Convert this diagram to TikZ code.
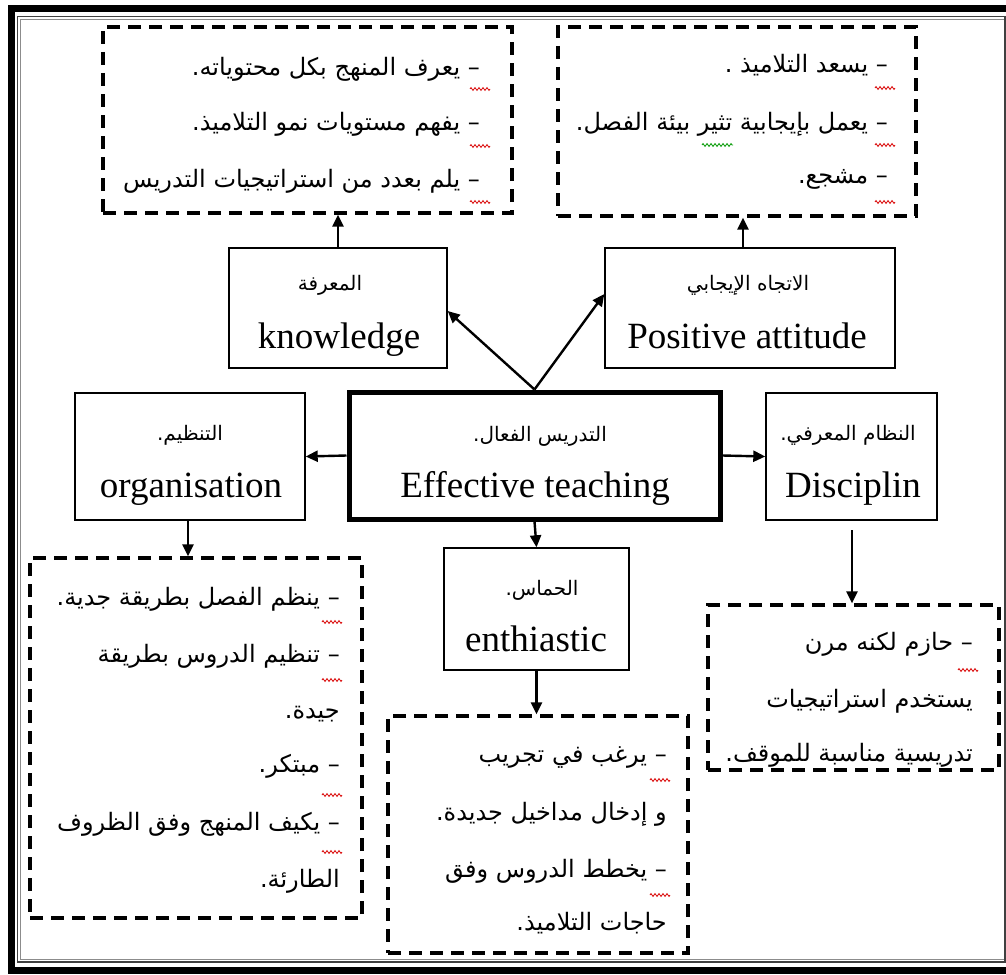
\documentclass[tikz,border=0pt]{standalone}
\usepackage{fontspec}
\setmainfont{Liberation Serif}
\newfontfamily\arabicfont[Script=Arabic]{DejaVu Sans}
\TeXXeTstate=1
\usetikzlibrary{arrows.meta,decorations.pathmorphing}

% right-to-left Arabic run
\newcommand{\artext}[1]{{\arabicfont\beginR #1\endR}}

\begin{document}
\begin{tikzpicture}[x=1pt,y=-1pt,
  solidbox/.style={draw, line width=1.4pt, inner sep=0pt},
  mainbox/.style={draw, line width=5pt, inner sep=0pt},
  dashbox/.style={draw, line width=3.2pt, dash pattern=on 13pt off 8pt, inner sep=0pt},
  arr/.style={line width=2.4pt, -{Triangle[length=12pt,width=11pt]}},
  entext/.style={font=\fontsize{37}{40}\selectfont, inner sep=0pt, anchor=base},
  arhead/.style={font=\arabicfont\fontsize{20}{22}\selectfont, inner sep=0pt},
  arline/.style={font=\arabicfont\fontsize{24}{28}\selectfont, inner sep=0pt, anchor=base east},
  squig/.style={draw=red!85!black, line width=0.8pt, decorate,
                decoration={zigzag, amplitude=1.4pt, segment length=4pt}},
  squiggreen/.style={squig, draw=green!60!black}
]
\useasboundingbox (0,0) rectangle (1006,974);
\fill[white] (0,0) rectangle (1006,974);

% page frame: thick outer rule, thin inner rules
\draw[line width=7pt] (1012,8.5) -- (11.5,8.5) -- (11.5,970.5) -- (1012,970.5);
\draw[line width=1.3pt, black!75] (17.5,16.5) rectangle (1005,962);
\draw[line width=0.8pt, black!45] (1004,19.5) -- (20.5,19.5) -- (20.5,959.5) -- (1004,959.5);

% central concept
\node[mainbox, minimum width=371pt, minimum height=127pt] (eff) at (534.5,455.5) {};
\node[arhead] (effar) at (540,436) {\artext{التدريس الفعال.}};
\node[entext] (effen) at (535,497) {Effective teaching};

% knowledge
\node[solidbox, minimum width=218pt, minimum height=120pt] (know) at (338,308) {};
\node[arhead] (knowar) at (330,285) {\artext{المعرفة}};
\node[entext] (knowen) at (339,348) {knowledge};

% positive attitude
\node[solidbox, minimum width=290pt, minimum height=120pt] (pos) at (750,308) {};
\node[arhead] (posar) at (748,285) {\artext{الاتجاه الإيجابي}};
\node[entext] (posen) at (747,348) {Positive attitude};

% organisation
\node[solidbox, minimum width=230pt, minimum height=127pt] (org) at (190,456.5) {};
\node[arhead] (orgar) at (190,435) {\artext{التنظيم.}};
\node[entext] (orgen) at (191,497) {organisation};

% discipline
\node[solidbox, minimum width=171pt, minimum height=127pt] (disc) at (851.5,456.5) {};
\node[arhead] (discar) at (848,435) {\artext{النظام المعرفي.}};
\node[entext] (discen) at (853,497) {Disciplin};

% enthusiasm
\node[solidbox, minimum width=185pt, minimum height=122pt] (enth) at (536.5,609) {};
\node[arhead] (enthar) at (542,590) {\artext{الحماس.}};
\node[entext] (enthen) at (536,651) {enthiastic};

% dashed description boxes
\node[dashbox, minimum width=409pt, minimum height=186pt] (knowd) at (307.5,120) {};
\node[dashbox, minimum width=358pt, minimum height=189pt] (posd) at (737,121.5) {};
\node[dashbox, minimum width=332pt, minimum height=360pt] (orgd) at (196,738) {};
\node[dashbox, minimum width=300pt, minimum height=237pt] (enthd) at (538,834.5) {};
\node[dashbox, minimum width=291pt, minimum height=165pt] (discd) at (853.5,687.5) {};

% connectors
\draw[arr] (eff.north) -- ([yshift=-3pt]know.east);
\draw[arr] (eff.north) -- ([yshift=14pt]pos.west);
\draw[arr] (eff.west) -- (org.east);
\draw[arr] (eff.east) -- (disc.west);
\draw[arr] (eff.south) -- (enth.north);
\draw[arr] (know.north) -- (know.north |- knowd.south);
\draw[arr] ([xshift=-7pt]pos.north) -- ([xshift=-7pt]pos.north |- posd.south);
\draw[arr] ([xshift=-2pt]org.south) -- ([xshift=-2pt]org.south |- orgd.north);
\draw[arr] (enth.south) -- (enth.south |- enthd.north);
\coordinate (discstart) at (852,530);
\draw[arr] (discstart) -- (discstart |- discd.north);

% knowledge details
\node[arline] (k1) at (480,75) {\artext{– يعرف المنهج بكل محتوياته.}};
\node[arline] (k2) at (480,130) {\artext{– يفهم مستويات نمو التلاميذ.}};
\node[arline] (k3) at (480,187) {\artext{– يلم بعدد من استراتيجيات التدريس}};
\draw[squig] (470,89) -- (490,89);
\draw[squig] (470,146) -- (490,146);
\draw[squig] (470,202) -- (490,202);

% attitude details
\node[arline] (p1) at (888,72) {\artext{– يسعد التلاميذ .}};
\node[arline] (p2) at (888,130) {\artext{– يعمل بإيجابية تثير بيئة الفصل.}};
\node[arline] (p3) at (888,183) {\artext{– مشجع.}};
\draw[squig] (875,88) -- (895,88);
\draw[squig] (875,145) -- (895,145);
\draw[squig] (875,202) -- (895,202);
\draw[squiggreen] (702,145) -- (733,145);

% organisation details
\node[arline] (o1) at (340,605) {\artext{– ينظم الفصل بطريقة جدية.}};
\node[arline] (o2) at (340,662) {\artext{– تنظيم الدروس بطريقة}};
\node[arline] (o3) at (340,718) {\artext{جيدة.}};
\node[arline] (o4) at (340,772) {\artext{– مبتكر.}};
\node[arline] (o5) at (340,830) {\artext{– يكيف المنهج وفق الظروف}};
\node[arline] (o6) at (340,887) {\artext{الطارئة.}};
\draw[squig] (322,622) -- (342,622);
\draw[squig] (322,680) -- (342,680);
\draw[squig] (322,795) -- (342,795);
\draw[squig] (322,852) -- (342,852);

% enthusiasm details
\node[arline] (e1) at (667,762) {\artext{– يرغب في تجريب}};
\node[arline] (e2) at (667,820) {\artext{و إدخال مداخيل جديدة.}};
\node[arline] (e3) at (667,877) {\artext{– يخطط الدروس وفق}};
\node[arline] (e4) at (667,930) {\artext{حاجات التلاميذ.}};
\draw[squig] (650,780) -- (670,780);
\draw[squig] (650,895) -- (670,895);

% discipline details
\node[arline] (d1) at (973,650) {\artext{– حازم لكنه مرن}};
\node[arline] (d2) at (973,707) {\artext{يستخدم استراتيجيات}};
\node[arline] (d3) at (973,761) {\artext{تدريسية مناسبة للموقف.}};
\draw[squig] (958,670) -- (978,670);
\end{tikzpicture}
\end{document}
